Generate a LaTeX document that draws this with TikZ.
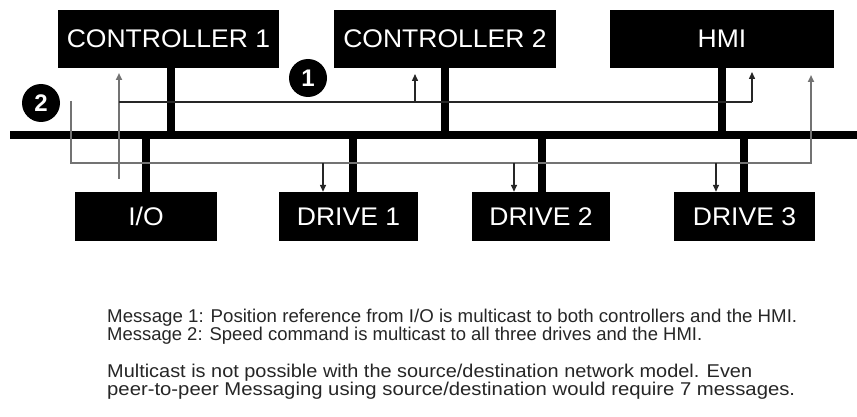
\documentclass[tikz,border=0pt]{standalone}
\usepackage{fontspec}
\setmainfont{Liberation Sans}
\usetikzlibrary{arrows.meta}
\newcommand{\wide}[1]{\scalebox{1.04}[1]{#1}}
\newcommand{\msgtxt}[2]{\resizebox{#1}{\height}{#2}}
\begin{document}
\begin{tikzpicture}[x=1pt,y=-1pt,
  box/.style={fill=black, text=white, inner sep=0pt, minimum height=58pt,
    font=\fontsize{25.5}{25.5}\selectfont},
  lowbox/.style={fill=black, text=white, inner sep=0pt, minimum height=49pt,
    font=\fontsize{25.5}{25.5}\selectfont},
  num/.style={circle, fill=black, text=white, inner sep=0pt, minimum size=38pt,
    font=\fontsize{24}{24}\selectfont\bfseries},
  bus/.style={line width=8pt, black},
  stem/.style={line width=8pt, black},
  mone/.style={line width=1.4pt, black!85},
  mtwo/.style={line width=1.8pt, black!55},
  tip/.style={-{Triangle[length=7pt,width=6pt]}},
  txt/.style={anchor=west, inner sep=0pt, font=\fontsize{18.5}{18.5}\selectfont, text=black!85}
]
\useasboundingbox (0,0) rectangle (857,417);
\fill[white] (0,0) rectangle (857,417);

% top boxes
\node[box, minimum width=221pt] (c1) at (168.5,39) {\wide{CONTROLLER 1}};
\node[box, minimum width=222pt] (c2) at (445,39) {\wide{CONTROLLER 2}};
\node[box, minimum width=224pt] (hmi) at (722,39) {\wide{HMI}};
% bottom boxes
\node[lowbox, minimum width=142pt] (io) at (146,216.5) {\wide{I/O}};
\node[lowbox, minimum width=139pt] (d1) at (348.5,216.5) {\wide{DRIVE 1}};
\node[lowbox, minimum width=138pt] (d2) at (541,216.5) {\wide{DRIVE 2}};
\node[lowbox, minimum width=141pt] (d3) at (744.5,216.5) {\wide{DRIVE 3}};

% bus
\coordinate (busL) at (10,135);
\coordinate (busR) at (857,135);
\draw[bus] (busL) -- (busR);

% stems
\draw[stem] ([xshift=2.5pt]c1.south) -- ([xshift=2.5pt]c1.south |- busL);
\draw[stem] (c2.south) -- (c2.south |- busL);
\draw[stem] (hmi.south) -- (hmi.south |- busL);
\draw[stem] (io.north) -- (io.north |- busL);
\draw[stem] ([xshift=4pt]d1.north) -- ([xshift=4pt]d1.north |- busL);
\draw[stem] ([xshift=1pt]d2.north) -- ([xshift=1pt]d2.north |- busL);
\draw[stem] ([xshift=-1pt]d3.north) -- ([xshift=-1pt]d3.north |- busL);

% message 1
\coordinate (m1src) at (119,179);
\coordinate (m1a) at (119,73);
\coordinate (m1j) at (119,102);
\coordinate (m1b) at (415,102);
\coordinate (m1c) at (752,102);
\draw[mtwo, tip] (m1src) -- (m1a);
\draw[mone] (m1j) -- (m1c);
\draw[mone, tip] (m1b) -- (m1b |- 0,74);
\draw[mone, tip] (m1c) -- (m1c |- 0,72);

% message 2
\coordinate (m2s) at (71,101);
\coordinate (m2c) at (71,163);
\coordinate (m2e) at (811,163);
\coordinate (m2t) at (811,75);
\draw[mtwo, tip] (m2s) -- (m2c) -- (m2e) -- (m2t);
\coordinate (m2d1) at (323,163);
\coordinate (m2d2) at (514,163);
\coordinate (m2d3) at (716,163);
\draw[mone, tip] (m2d1) -- (m2d1 |- d1.north);
\draw[mone, tip] (m2d2) -- (m2d2 |- d2.north);
\draw[mone, tip] (m2d3) -- (m2d3 |- d3.north);

% numbers
\node[num] (n1) at (308,78) {1};
\node[num] (n2) at (41,103) {2};

% text
\node[txt] (t1) at (107,318) {\msgtxt{690pt}{Message 1: Position reference from I/O is multicast to both controllers and the HMI.}};
\node[txt] (t2) at (107,336) {\msgtxt{595pt}{Message 2: Speed command is multicast to all three drives and the HMI.}};
\node[txt] (t3) at (107,373) {\msgtxt{645pt}{Multicast is not possible with the source/destination network model. Even}};
\node[txt] (t4) at (107,391) {\msgtxt{688pt}{peer-to-peer Messaging using source/destination would require 7 messages.}};
\end{tikzpicture}
\end{document}
